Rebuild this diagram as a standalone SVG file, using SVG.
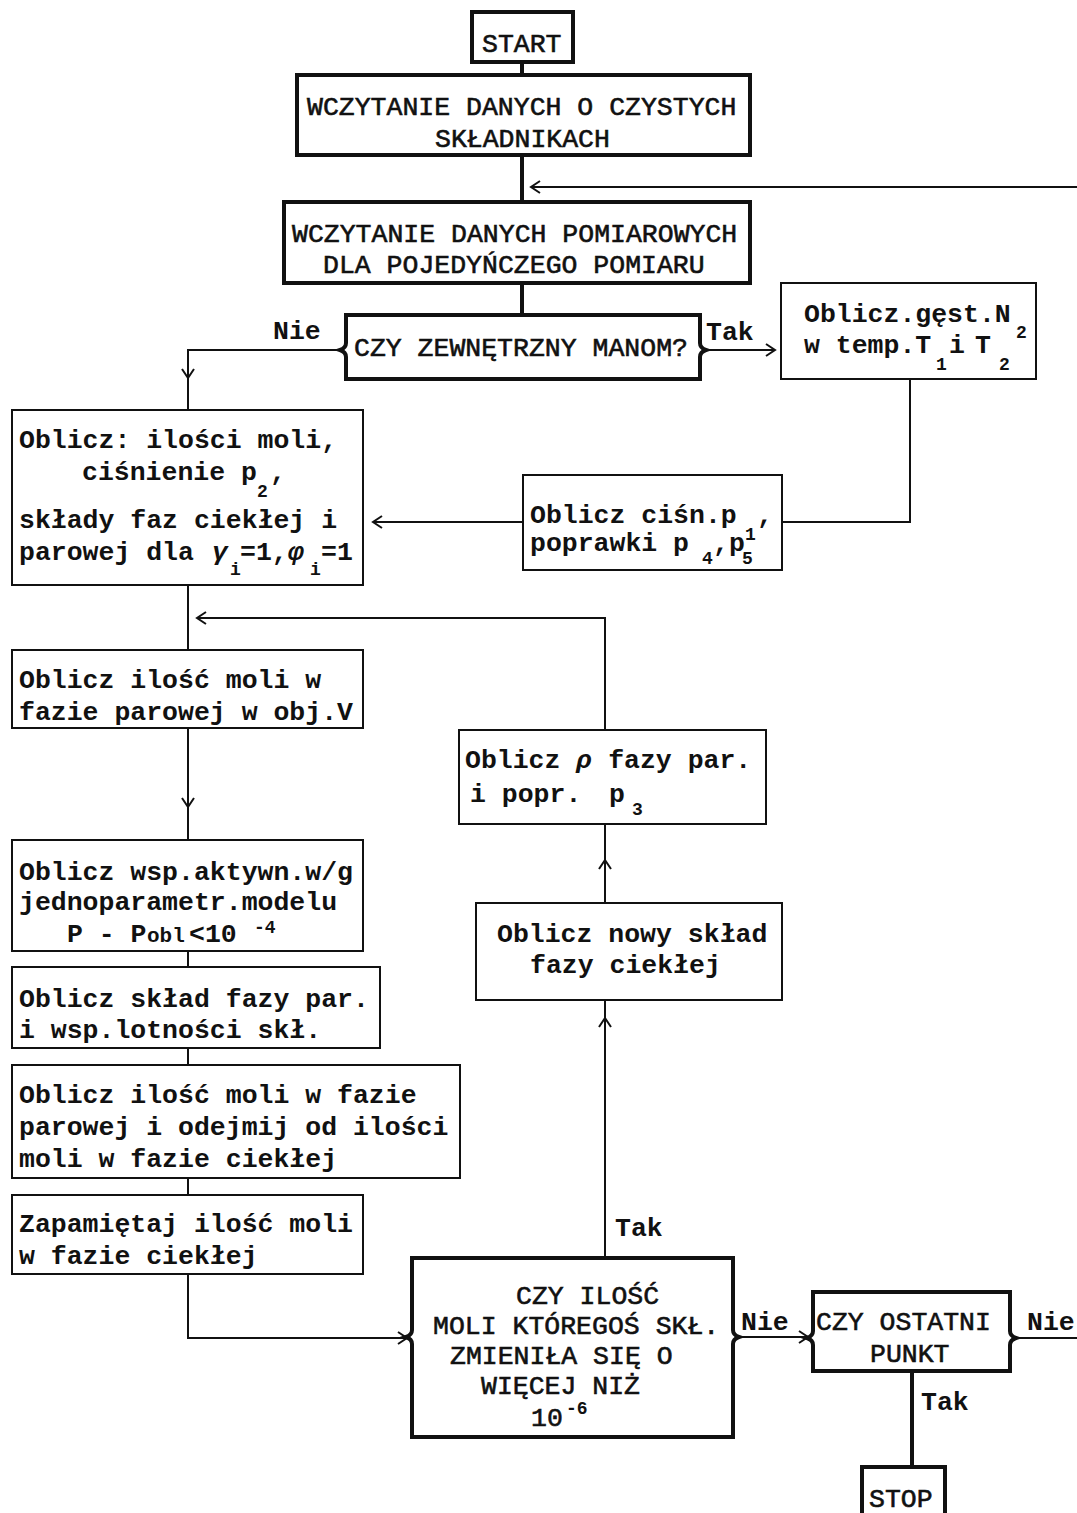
<svg xmlns="http://www.w3.org/2000/svg" width="1077" height="1513" viewBox="0 0 1077 1513">
<defs>
<style>
.thick{fill:none;stroke:#111;stroke-width:4}
.thin{fill:none;stroke:#111;stroke-width:2}
.ln{fill:none;stroke:#111;stroke-width:2}
.lnb{fill:none;stroke:#111;stroke-width:4}
text{font-family:"Liberation Mono","DejaVu Sans Mono",monospace;font-size:26.5px;fill:#111}
.b{font-weight:bold}
.up{font-weight:normal;stroke:#111;stroke-width:0.6}
.sub{font-size:18px;font-weight:bold}
.sm{font-size:21px}
.gr{font-style:italic;font-weight:bold}
</style>
<marker id="ah" markerUnits="userSpaceOnUse" markerWidth="14" markerHeight="16" refX="11" refY="7" orient="auto">
<path d="M2,1 L11,7 L2,13" fill="none" stroke="#111" stroke-width="2"/>
</marker>
</defs>
<rect width="1077" height="1513" fill="#fff"/>

<g id="connectors">
<path class="lnb" d="M522,62 V75"/>
<path class="lnb" d="M522,155 V202"/>
<path class="ln" d="M1077,187 H531" marker-end="url(#ah)"/>
<path class="lnb" d="M522,283 V315"/>
<path class="ln" d="M340,350 H188 V378" marker-end="url(#ah)"/>
<path class="ln" d="M188,378 V410"/>
<path class="ln" d="M706,350 H775" marker-end="url(#ah)"/>
<path class="ln" d="M910,379 V522 H782"/>
<path class="ln" d="M523,522 H373" marker-end="url(#ah)"/>
<path class="ln" d="M188,585 V650"/>
<path class="ln" d="M605,730 V618 H197" marker-end="url(#ah)"/>
<path class="ln" d="M188,728 V807" marker-end="url(#ah)"/>
<path class="ln" d="M188,807 V840"/>
<path class="ln" d="M188,951 V967"/>
<path class="ln" d="M188,1048 V1065"/>
<path class="ln" d="M188,1178 V1195"/>
<path class="ln" d="M188,1274 V1338 H407" marker-end="url(#ah)"/>
<path class="ln" d="M605,1258 V1018" marker-end="url(#ah)"/>
<path class="ln" d="M605,1018 V1000"/>
<path class="ln" d="M605,903 V860" marker-end="url(#ah)"/>
<path class="ln" d="M605,860 V824"/>
<path class="ln" d="M739,1337 H808" marker-end="url(#ah)"/>
<path class="ln" d="M1016,1338 H1077"/>
<path class="lnb" d="M912,1371 V1467"/>
<text class="b" x="273" y="339">Nie</text>
<text class="b" x="706" y="340">Tak</text>
<text class="b" x="615" y="1236">Tak</text>
<text class="b" x="741" y="1330">Nie</text>
<text class="b" x="1027" y="1330">Nie</text>
<text class="b" x="921" y="1410">Tak</text>
</g>

<g id="start">
<rect class="thick" x="472" y="12" width="101" height="50"/>
<text class="up" x="482" y="52">START</text>
</g>

<g id="read-pure">
<rect class="thick" x="297" y="75" width="453" height="80"/>
<text class="up" x="307" y="115">WCZYTANIE DANYCH O CZYSTYCH</text>
<text class="up" x="435" y="147">SKŁADNIKACH</text>
</g>

<g id="read-meas">
<rect class="thick" x="284" y="202" width="466" height="81"/>
<text class="up" x="292" y="242">WCZYTANIE DANYCH POMIAROWYCH</text>
<text class="up" x="323" y="273">DLA POJEDYŃCZEGO POMIARU</text>
</g>

<g id="dec-manom">
<path class="thick" d="M346,315 H700 V343 Q700,348 706,350 Q700,352 700,357 V379 H346 V357 Q346,352 340,350 Q346,348 346,343 Z"/>
<text class="up" x="354" y="356">CZY ZEWNĘTRZNY MANOM?</text>
</g>

<g id="dens-n2">
<rect class="thin" x="781" y="283" width="255" height="96"/>
<text class="b" x="804" y="322">Oblicz.gęst.N<tspan class="sub" x="1016" dy="16">2</tspan></text>
<text class="b" x="804" y="353">w temp.T<tspan class="sub" x="936" dy="17">1</tspan><tspan x="949" dy="-17">i</tspan><tspan x="975">T</tspan><tspan class="sub" x="999" dy="17">2</tspan></text>
</g>

<g id="press-p1">
<rect class="thin" x="523" y="475" width="259" height="95"/>
<text class="b" x="530" y="523">Oblicz ciśn.p<tspan class="sub" x="745" dy="17">1</tspan><tspan x="757" dy="-17">,</tspan></text>
<text class="b" x="530" y="551">poprawki p<tspan class="sub" x="702" dy="13">4</tspan><tspan x="713" dy="-13">,p</tspan><tspan class="sub" x="742" dy="13">5</tspan></text>
</g>

<g id="calc-moles">
<rect class="thin" x="12" y="410" width="351" height="175"/>
<text class="b" x="19" y="448">Oblicz: ilości moli,</text>
<text class="b" x="82" y="480">ciśnienie p<tspan class="sub" x="257" dy="17">2</tspan><tspan x="270" dy="-17">,</tspan></text>
<text class="b" x="19" y="528">składy faz ciekłej i</text>
<text class="b" x="19" y="560">parowej dla <tspan class="gr" x="212">γ</tspan><tspan class="sub" x="230" dy="15">i</tspan><tspan x="240" dy="-15">=1,</tspan><tspan class="gr" x="288">φ</tspan><tspan class="sub" x="310" dy="15">i</tspan><tspan x="321" dy="-15">=1</tspan></text>
</g>

<g id="vapour-moles">
<rect class="thin" x="12" y="650" width="351" height="78"/>
<text class="b" x="19" y="688">Oblicz ilość moli w</text>
<text class="b" x="19" y="720">fazie parowej w obj.V</text>
</g>

<g id="activity">
<rect class="thin" x="12" y="840" width="351" height="111"/>
<text class="b" x="19" y="880">Oblicz wsp.aktywn.w/g</text>
<text class="b" x="19" y="910">jednoparametr.modelu</text>
<text class="b" x="67" y="942">P - P<tspan class="sm" x="147">obl</tspan><tspan x="189">&lt;10</tspan><tspan class="sub" x="254" dy="-9">-4</tspan></text>
</g>

<g id="vapour-comp">
<rect class="thin" x="12" y="967" width="368" height="81"/>
<text class="b" x="19" y="1007">Oblicz skład fazy par.</text>
<text class="b" x="19" y="1038">i wsp.lotności skł.</text>
</g>

<g id="subtract">
<rect class="thin" x="12" y="1065" width="448" height="113"/>
<text class="b" x="19" y="1103">Oblicz ilość moli w fazie</text>
<text class="b" x="19" y="1135">parowej i odejmij od ilości</text>
<text class="b" x="19" y="1167">moli w fazie ciekłej</text>
</g>

<g id="store">
<rect class="thin" x="12" y="1195" width="351" height="79"/>
<text class="b" x="19" y="1232">Zapamiętaj ilość moli</text>
<text class="b" x="19" y="1264">w fazie ciekłej</text>
</g>

<g id="rho">
<rect class="thin" x="459" y="730" width="307" height="94"/>
<text class="b" x="465" y="768">Oblicz <tspan class="gr">ρ</tspan> fazy par.</text>
<text class="b" x="470" y="802">i popr.<tspan x="609">p</tspan><tspan class="sub" x="632" dy="13">3</tspan></text>
</g>

<g id="new-comp">
<rect class="thin" x="476" y="903" width="306" height="97"/>
<text class="b" x="497" y="942">Oblicz nowy skład</text>
<text class="b" x="530" y="973">fazy ciekłej</text>
</g>

<g id="dec-change">
<path class="thick" d="M412,1258 H733 V1330 Q733,1335 739,1337 Q733,1339 733,1344 V1437 H412 V1344 Q412,1339 406,1337 Q412,1335 412,1330 Z"/>
<text class="up" x="516" y="1304">CZY ILOŚĆ</text>
<text class="up" x="433" y="1334">MOLI KTÓREGOŚ SKŁ.</text>
<text class="up" x="450" y="1364">ZMIENIŁA SIĘ O</text>
<text class="up" x="481" y="1394">WIĘCEJ NIŻ</text>
<text class="up" x="531" y="1426">10<tspan class="sub" x="566" dy="-12" style="stroke:none">-6</tspan></text>
</g>

<g id="dec-last">
<path class="thick" d="M813,1292 H1010 V1331 Q1010,1336 1016,1338 Q1010,1340 1010,1345 V1371 H813 V1345 Q813,1340 807,1338 Q813,1336 813,1331 Z"/>
<text class="up" x="816" y="1330">CZY OSTATNI</text>
<text class="up" x="870" y="1362">PUNKT</text>
</g>

<g id="stop">
<rect class="thick" x="862" y="1467" width="83" height="60"/>
<text class="up" x="869" y="1507">STOP</text>
</g>
</svg>
